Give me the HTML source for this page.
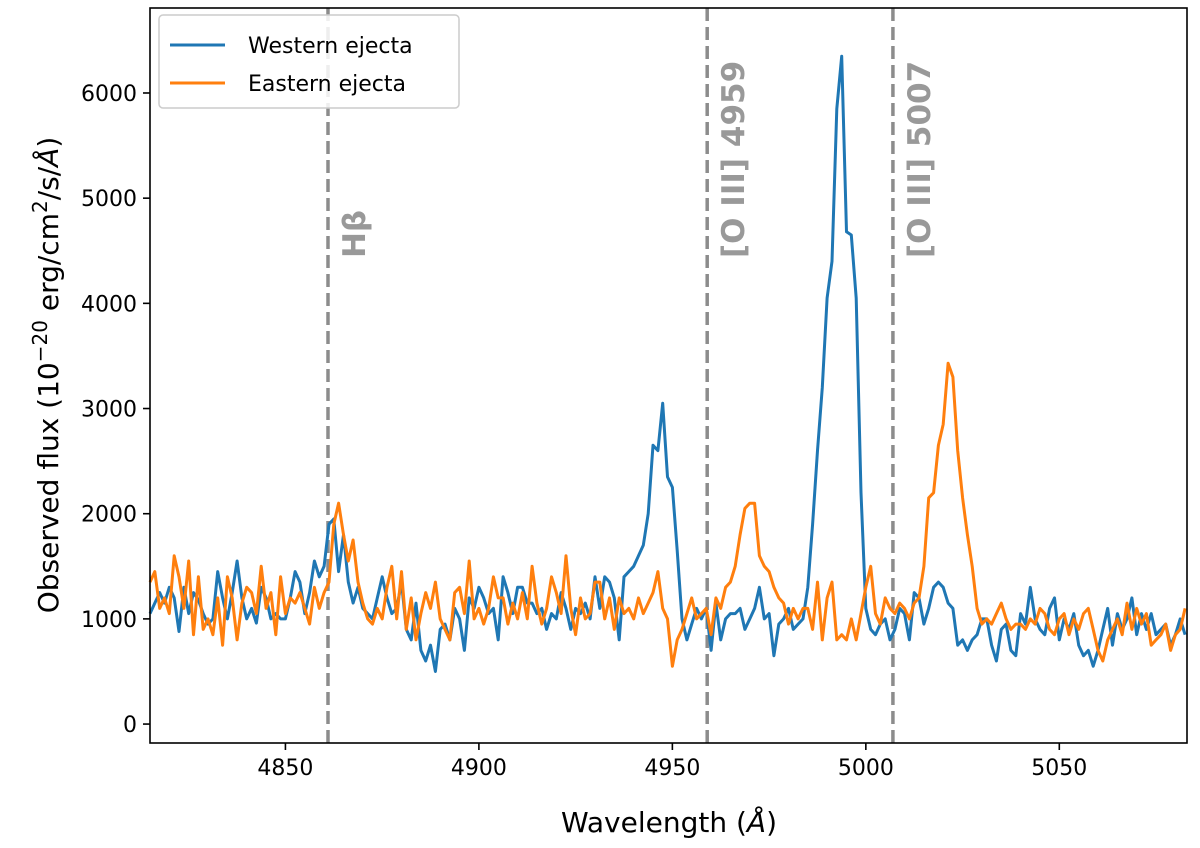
<!DOCTYPE html>
<html><head><meta charset="utf-8"><style>
body{margin:0;background:#fff}
svg text{font-family:"DejaVu Sans","Liberation Sans",sans-serif}
</style></head><body>
<svg id="chart" width="1200" height="843" viewBox="0 0 1200 843">
<g id="lines"></g>
<g id="axes"></g>
</svg>
<script>
const lamStart = 4815, lamStep = 1.25;
const western = [1050,1150,1250,1150,1300,1200,880,1300,1050,1250,1180,1050,950,1000,1450,1200,1000,1250,1550,1200,1000,1100,960,1300,1200,1000,1050,1000,1000,1200,1450,1350,1050,1250,1550,1400,1500,
1900,1950,1450,1800,1350,1150,1300,1100,1050,
1000,1200,1400,1200,1050,1100,1350,900,800,1150,700,600,750,500,900,
950,800,1100,1000,700,1200,1100,1300,1200,1050,1100,800,1400,1250,1050,1300,1300,1150,1150,1050,
1100,900,1050,1000,1250,1100,900,1100,1050,1150,1000,1400,1100,1400,1350,1200,800,1400,1450,1500,
1600,1700,2000,2650,2600,3050,2350,2250,1650,1000,
800,950,1100,1000,1100,700,1150,800,1000,1050,1050,1100,900,1000,1100,1300,1000,1050,650,950,
1000,1100,900,950,1000,1300,1900,2600,3200,4050,4400,5850,6350,4680,4650,4050,2200,1100,900,850,
950,1000,800,900,1100,1050,800,1250,1200,950,1100,1300,1350,1300,1150,1100,750,800,700,800,
850,1000,1000,750,600,900,950,700,650,1050,950,1300,1000,900,850,1100,1200,800,1000,900,
1050,750,650,700,550,700,900,1100,750,1050,900,1000,1200,850,1050,900,1050,850,900,950,750,850,1000,850];
const eastern = [1350,1450,1100,1200,1050,1600,1400,1100,1550,850,1400,900,1000,850,1200,750,1400,1200,800,1150,1300,1250,1050,1500,1100,1250,850,1400,1050,1200,1150,1250,1100,950,1300,1100,1250,
1350,1900,2100,1800,1550,1750,1350,1150,1000,
950,1100,1000,1300,1500,1000,1450,900,1200,800,1050,1250,1100,1350,1000,
900,800,1250,1300,1050,1550,1000,1100,950,1100,1400,1200,1200,950,1150,1000,1250,1000,1500,1150,
950,1100,1400,1250,1050,1600,1100,850,1200,1000,1050,1350,1350,1000,1200,900,1200,1050,1100,1000,
1200,1050,1150,1250,1450,1100,1000,550,800,900,
1050,1200,1000,1050,1100,850,1200,1100,1300,1350,1500,1800,2050,2100,2100,1600,1500,1450,1300,1200,
1150,950,1100,1000,1100,1100,900,1350,800,1200,1350,800,850,800,1000,800,1050,1300,1500,1050,
950,1200,1100,1050,1150,1100,1000,1150,1200,1500,2150,2200,2650,2850,3430,3300,2600,2150,1800,1500,
1100,950,1000,950,1050,1150,1000,900,950,950,900,1000,950,1100,1050,900,850,1000,1050,850,
1000,900,1050,1100,900,700,600,800,900,1000,850,1150,900,1100,950,1050,750,800,850,950,700,850,900,1100];
const xTicks = [4850,4900,4950,5000,5050];
const yTicks = [0,1000,2000,3000,4000,5000,6000];
const refLines = [4861,4959,5007];
const refLabels = ["Hβ","[O III] 4959","[O III] 5007"];

const L=150,R=1187,T=8,B=743, xMin=4815, xMax=5083, yMin=-180, yMax=6808;
const X=v=>L+(v-xMin)/(xMax-xMin)*(R-L);
const Y=v=>B-(v-yMin)/(yMax-yMin)*(B-T);
const NS="http://www.w3.org/2000/svg";
function mk(tag,attrs,parent,text){const e=document.createElementNS(NS,tag);for(const k in attrs)e.setAttribute(k,attrs[k]);if(text!==undefined)e.textContent=text;parent.appendChild(e);return e;}
const gl=document.getElementById('lines'), ga=document.getElementById('axes');

refLines.forEach((w,i)=>{
  const ln=mk('line',{x1:X(w),x2:X(w),y1:T,y2:B,stroke:'#8c8c8c','stroke-width':3.5,'stroke-dasharray':'13,6'},gl);
  
  
  const tx=X(w)+37, ty=258;
  const t=mk('text',{x:tx,y:ty,transform:`rotate(-90 ${tx} ${ty})`,fill:'#999','font-size':31,'font-weight':'bold'},gl,refLabels[i]);
  
  
});

function series(arr,color,name){
  const pts=arr.map((v,i)=>X(lamStart+i*lamStep).toFixed(1)+','+Y(v).toFixed(1)).join(' ');
  const p=mk('polyline',{points:pts,fill:'none',stroke:color,'stroke-width':3,'stroke-linejoin':'round'},gl);
  
  
}
series(western,'#1f77b4','western-ejecta-line');
series(eastern,'#ff7f0e','eastern-ejecta-line');

const frame=mk('rect',{x:L,y:T,width:R-L,height:B-T,fill:'none',stroke:'#000','stroke-width':1.6},ga);


xTicks.forEach(v=>{
  mk('line',{x1:X(v),x2:X(v),y1:B,y2:B+7,stroke:'#000','stroke-width':1.6},ga);
  const t=mk('text',{x:X(v),y:B+32,'font-size':22,'text-anchor':'middle'},ga,v);
  
  
});
yTicks.forEach(v=>{
  mk('line',{x1:L-7,x2:L,y1:Y(v),y2:Y(v),stroke:'#000','stroke-width':1.6},ga);
  const t=mk('text',{x:L-13,y:Y(v)+8,'font-size':22,'text-anchor':'end'},ga,v);
  
  
});
</script>
<svg width="1200" height="843" style="position:absolute;left:0;top:0">
<text x="669" y="832" font-size="28" text-anchor="middle" font-family="DejaVu Sans, sans-serif">Wavelength (<tspan font-style="italic">Å</tspan>)</text>
<text x="0" y="0" transform="translate(58 375) rotate(-90)" font-size="28" text-anchor="middle" font-family="DejaVu Sans, sans-serif">Observed flux (10<tspan dy="-11" font-size="20">−20</tspan><tspan dy="11"> erg/cm</tspan><tspan dy="-11" font-size="20">2</tspan><tspan dy="11">/s/</tspan><tspan font-style="italic">Å</tspan>)</text>
<g>
<rect x="159" y="15" width="300" height="93" rx="4" fill="#fff" fill-opacity="0.85" stroke="#ccc" stroke-width="1.5"/>
<line x1="170" x2="225" y1="45" y2="45" stroke="#1f77b4" stroke-width="3"/>
<text x="248" y="53" font-size="22" font-family="DejaVu Sans, sans-serif">Western ejecta</text>
<line x1="170" x2="225" y1="83" y2="83" stroke="#ff7f0e" stroke-width="3"/>
<text x="248" y="91" font-size="22" font-family="DejaVu Sans, sans-serif">Eastern ejecta</text>
</g>
</svg>
</body></html>
